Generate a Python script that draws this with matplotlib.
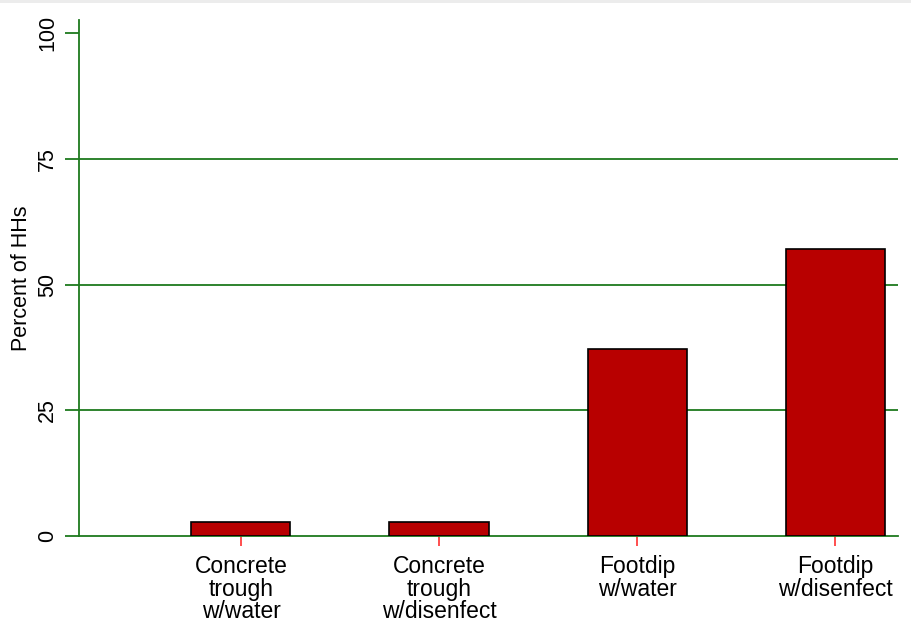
import matplotlib
matplotlib.use("Agg")
import matplotlib.pyplot as plt
from matplotlib.patches import Rectangle

# Share of households using each biosecurity measure
categories = ["Concrete\ntrough\nw/water", "Concrete\ntrough\nw/disenfect",
              "Footdip\nw/water", "Footdip\nw/disenfect"]
percent = [2.86, 2.86, 37.14, 57.14]
y_ticks = [0, 25, 50, 75, 100]

green = "#1e7a1e"
bar_red = "#b80000"

plt.rcParams["font.family"] = ["Liberation Sans", "DejaVu Sans"]

fig = plt.figure(figsize=(9.12, 6.26), dpi=100)
fig.patch.set_facecolor("white")
# thin grey band along the top edge
fig.patches.append(Rectangle((0, 1 - 3 / 626), 1, 3 / 626, transform=fig.transFigure,
                             facecolor="#ececec", edgecolor="none", zorder=0))

ax = fig.add_axes([79 / 912, 1 - 536 / 626, (898 - 79) / 912, 516 / 626])

x = list(range(1, len(categories) + 1))
ax.bar(x, percent, width=0.5, color=bar_red, edgecolor="black", linewidth=1.2, zorder=3)

ax.set_xlim(0.182, 4.318)
ax.set_ylim(0, 102.6)

# horizontal grid at the interior ticks
for v in y_ticks[1:-1]:
    ax.axhline(v, color=green, linewidth=1.3, zorder=1)

ax.set_yticks(y_ticks)
ax.set_yticklabels([str(v) for v in y_ticks], rotation=90, va="center", fontsize=15.5)
ax.tick_params(axis="y", length=10, width=1.3, color=green, pad=5)

ax.set_xticks(x)
ax.set_xticklabels(categories, fontsize=16.5, linespacing=0.96)
ax.tick_params(axis="x", length=7, width=1.2, color="#ff3030", pad=7)

for side in ["top", "right"]:
    ax.spines[side].set_visible(False)
for side in ["left", "bottom"]:
    ax.spines[side].set_color(green)
    ax.spines[side].set_linewidth(1.3)

ax.set_ylabel("Percent of HHs", fontsize=15.5, labelpad=4)

fig.savefig("out.png", dpi=100, facecolor="white")
